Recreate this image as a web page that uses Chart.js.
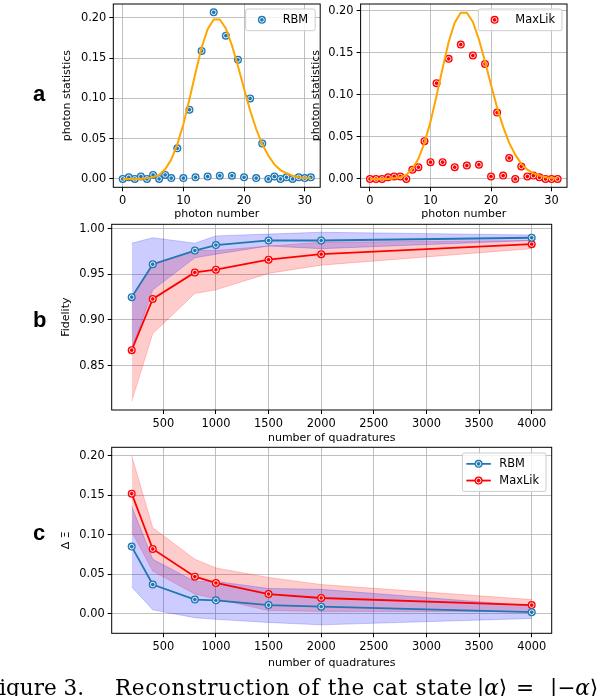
<!DOCTYPE html>
<html lang="en">
<head>
<meta charset="UTF-8" />
<title>Cat state reconstruction</title>
<style>
    body { margin: 0; background: #ffffff; }
    #page { position: relative; width: 604px; height: 696px; overflow: hidden; background: #ffffff; }
    canvas { position: absolute; left: 0; top: 0; }
    .panel { position: absolute; left: 33px; font: bold 22px "Liberation Sans", Arial, sans-serif; line-height: 22px; color: #000; }
    .caption { position: absolute; top: 676.5px; font: 21.5px "DejaVu Serif", serif; line-height: 22px; white-space: nowrap; color: #000; }
    .caption i { font-style: italic; }
</style>
</head>
<body>
<div id="page">
    <canvas id="statsRbm" width="604" height="696"></canvas>
    <canvas id="statsMaxLik" width="604" height="696"></canvas>
    <canvas id="fidelity" width="604" height="696"></canvas>
    <canvas id="deltaXi" width="604" height="696"></canvas>

    <div class="panel" style="top:83px">a</div>
    <div class="panel" style="top:309px">b</div>
    <div class="panel" style="top:522px">c</div>

    <div class="caption" style="right:520px">Figure 3.</div>
    <div class="caption" id="capText" style="left:115px">Reconstruction of the cat state</div>
    <div class="caption" style="left:477px">|<i>α</i>⟩</div>
    <div class="caption" style="left:516px">=</div>
    <div class="caption" style="left:550px">|−<i>α</i>⟩</div>
</div>

<script src="https://cdn.jsdelivr.net/npm/chart.js"></script>
<script>
    // ---- panel a: photon number distributions ----
    const photonN = [0, 1, 2, 3, 4, 5, 6, 7, 8, 9, 10, 11, 12, 13, 14, 15,
                     16, 17, 18, 19, 20, 21, 22, 23, 24, 25, 26, 27, 28, 29, 30, 31];
    const targetStats = [0, 0, 0, 0, 0.001, 0.002, 0.005, 0.012, 0.024, 0.043, 0.068, 0.099,
                         0.132, 0.163, 0.186, 0.198, 0.198, 0.187, 0.166, 0.140, 0.112, 0.085,
                         0.062, 0.043, 0.029, 0.018, 0.011, 0.007, 0.004, 0.002, 0.001, 0.001];
    const rbmStats = [0.000, 0.002, 0.000, 0.003, 0.000, 0.005, 0.000, 0.005, 0.001, 0.038, 0.001, 0.086,
                      0.002, 0.159, 0.003, 0.207, 0.004, 0.178, 0.004, 0.148, 0.002, 0.100,
                      0.001, 0.044, 0.000, 0.003, 0.000, 0.002, 0.000, 0.002, 0.001, 0.002];
    const maxLikStats = [0.000, 0.000, 0.000, 0.002, 0.003, 0.003, 0.000, 0.011, 0.014, 0.045, 0.020, 0.114,
                         0.020, 0.143, 0.014, 0.160, 0.016, 0.147, 0.017, 0.137, 0.003, 0.079,
                         0.004, 0.025, 0.000, 0.015, 0.003, 0.004, 0.002, 0.000, 0.000, 0.000];
    const photonTicks = [0, 10, 20, 30];
    const statTicks = [0, 0.05, 0.10, 0.15, 0.20];

    // ---- panels b and c: versus number of quadratures ----
    const quadratures = [200, 400, 800, 1000, 1500, 2000, 4000];
    const fidRbm = [0.925, 0.961, 0.976, 0.982, 0.987, 0.987, 0.990];
    const fidRbmLow = [0.867, 0.933, 0.968, 0.972, 0.981, 0.978, 0.987];
    const fidRbmHigh = [0.984, 0.990, 0.984, 0.992, 0.994, 0.996, 0.993];
    const fidMaxLik = [0.867, 0.923, 0.952, 0.955, 0.966, 0.972, 0.983];
    const fidMaxLikLow = [0.811, 0.885, 0.929, 0.933, 0.951, 0.960, 0.978];
    const fidMaxLikHigh = [0.923, 0.960, 0.976, 0.976, 0.981, 0.985, 0.987];

    const dxiRbm = [0.085, 0.037, 0.018, 0.017, 0.011, 0.009, 0.002];
    const dxiRbmLow = [0.034, 0.005, -0.005, -0.007, -0.011, -0.014, -0.006];
    const dxiRbmHigh = [0.136, 0.069, 0.041, 0.041, 0.032, 0.031, 0.010];
    const dxiMaxLik = [0.152, 0.082, 0.047, 0.039, 0.025, 0.020, 0.011];
    const dxiMaxLikLow = [0.104, 0.054, 0.025, 0.019, 0.004, 0.003, 0.003];
    const dxiMaxLikHigh = [0.200, 0.109, 0.069, 0.058, 0.046, 0.037, 0.018];

    const quadTicks = [500, 1000, 1500, 2000, 2500, 3000, 3500, 4000];
    const fidTicks = [0.85, 0.90, 0.95, 1.00];
    const dxiTicks = [0, 0.05, 0.10, 0.15, 0.20];

    const BLUE = '#1f77b4';
    const RED = '#ff0000';
    const ORANGE = '#ffa500';
    const FONT = 'DejaVu Sans';
    const MARK_R = 4;
    const RING_R = 2.3;

    // stretch the caption text to the width it has in the figure
    (function () {
        const el = document.getElementById('capText');
        const extra = 357 - el.getBoundingClientRect().width;
        el.style.letterSpacing = (extra / (el.textContent.length - 1)) + 'px';
    })();

    const xy = (xs, ys) => xs.map((x, i) => ({x: x, y: ys[i]}));

    function drawRing(ctx, x, y) {
        ctx.beginPath();
        ctx.arc(x, y, RING_R, 0, 2 * Math.PI);
        ctx.stroke();
    }

    // white ring inside each marker, as in the figure
    const rings = {
        id: 'rings',
        afterDatasetDraw(chart, args) {
            const ds = chart.data.datasets[args.index];
            if (!ds.ring) return;
            const ctx = chart.ctx;
            ctx.save();
            ctx.strokeStyle = '#ffffff';
            ctx.lineWidth = 0.9;
            args.meta.data.forEach(p => drawRing(ctx, p.x, p.y));
            ctx.restore();
        }
    };

    // black box round the plot area
    const frame = {
        id: 'frame',
        afterDatasetsDraw(chart) {
            const {ctx, chartArea: a} = chart;
            ctx.save();
            ctx.strokeStyle = '#000';
            ctx.lineWidth = 1;
            ctx.strokeRect(a.left, a.top, a.right - a.left, a.bottom - a.top);
            ctx.restore();
        }
    };

    // matplotlib-style legend inside the top right corner
    const boxLegend = {
        id: 'boxLegend',
        afterDraw(chart, args, opts) {
            if (!opts.show) return;
            const items = chart.data.datasets.filter(d => d.ring);
            const {ctx, chartArea: a} = chart;
            ctx.save();
            ctx.font = '11.4px "' + FONT + '"';
            const textW = Math.max(...items.map(d => ctx.measureText(d.label).width));
            const rowH = 16.7;
            const w = 4 + 24.5 + 8.5 + textW + 7;
            const h = 5 + rowH * items.length;
            const x0 = a.right - opts.inset - w;
            const y0 = a.top + opts.inset;
            ctx.fillStyle = 'rgba(255,255,255,0.8)';
            ctx.strokeStyle = '#cccccc';
            ctx.lineWidth = 1;
            ctx.beginPath();
            ctx.roundRect(x0, y0, w, h, 2);
            ctx.fill();
            ctx.stroke();
            items.forEach((d, i) => {
                const cy = y0 + 2.5 + rowH * (i + 0.5);
                const hx = x0 + 4;
                const mx = hx + 12.25;
                if (d.showLine !== false) {
                    ctx.strokeStyle = d.borderColor;
                    ctx.lineWidth = d.borderWidth;
                    ctx.beginPath();
                    ctx.moveTo(hx, cy);
                    ctx.lineTo(hx + 24.5, cy);
                    ctx.stroke();
                }
                ctx.fillStyle = d.pointBackgroundColor;
                ctx.beginPath();
                ctx.arc(mx, cy, MARK_R, 0, 2 * Math.PI);
                ctx.fill();
                ctx.strokeStyle = '#ffffff';
                ctx.lineWidth = 0.9;
                drawRing(ctx, mx, cy);
                ctx.fillStyle = '#000';
                ctx.textBaseline = 'middle';
                ctx.textAlign = 'left';
                ctx.fillText(d.label, hx + 24.5 + 8.5, cy + 0.5);
            });
            ctx.restore();
        }
    };

    // builds a linear axis with fixed ticks and a fixed box size
    function axis(opts) {
        return {
            type: 'linear',
            position: opts.position,
            min: opts.min,
            max: opts.max,
            afterBuildTicks: s => { s.ticks = opts.ticks.map(v => ({value: v})); },
            afterFit: s => {
                if (opts.position === 'left') s.width = opts.size;
                else s.height = opts.size;
                s.paddingTop = 0;
                s.paddingBottom = 0;
                s.paddingLeft = 0;
                s.paddingRight = 0;
            },
            grid: {color: '#b0b0b0', lineWidth: 0.8, tickColor: '#000', tickLength: 4, tickWidth: 1},
            border: {display: false},
            ticks: {
                autoSkip: false,
                maxRotation: 0,
                padding: 3,
                color: '#000',
                font: {family: FONT, size: 11.4},
                callback: opts.format
            },
            title: {
                display: true,
                text: opts.title,
                color: '#000',
                padding: 0,
                font: {family: FONT, size: 11, lineHeight: 1.2}
            }
        };
    }

    function baseOptions(pad, xAxis, yAxis, legend) {
        return {
            responsive: false,
            maintainAspectRatio: false,
            animation: false,
            events: [],
            layout: {padding: pad},
            plugins: {legend: {display: false}, tooltip: {enabled: false}, boxLegend: legend},
            scales: {x: xAxis, y: yAxis}
        };
    }

    const fmt2 = v => v.toFixed(2);
    const fmt0 = v => String(v);

    function statsChart(id, label, values, color, pad, yMin, yMax, ySize) {
        new Chart(document.getElementById(id), {
            type: 'line',
            data: {
                datasets: [
                    {
                        label: 'target', data: xy(photonN, targetStats), order: 0,
                        borderColor: ORANGE, borderWidth: 2, pointRadius: 0, fill: false
                    },
                    {
                        label: label, data: xy(photonN, values), order: 1, ring: true,
                        showLine: false, pointStyle: 'circle', pointRadius: MARK_R, pointBorderWidth: 0,
                        pointBackgroundColor: color, borderColor: color
                    }
                ]
            },
            options: baseOptions(pad,
                axis({position: 'bottom', min: -1.55, max: 32.55, ticks: photonTicks, size: 33.3,
                      title: 'photon number', format: fmt0}),
                axis({position: 'left', min: yMin, max: yMax, ticks: statTicks, size: ySize,
                      title: 'photon statistics', format: fmt2}),
                {show: true, inset: 5}),
            plugins: [rings, frame, boxLegend]
        });
    }

    statsChart('statsRbm', 'RBM', rbmStats, BLUE,
        {left: 60.8, top: 0.5, right: 283.8, bottom: 475.4}, -0.0104, 0.2173, 52.5);
    statsChart('statsMaxLik', 'MaxLik', maxLikStats, RED,
        {left: 309.4, top: 0.5, right: 37, bottom: 475.4}, -0.0099, 0.2083, 51.2);

    function bandSets(xs, mean, low, high, color, fillColor, label, base) {
        return [
            {
                label: label, data: xy(xs, mean), order: base, ring: true,
                borderColor: color, borderWidth: 1.8, pointStyle: 'circle', pointRadius: MARK_R,
                pointBorderWidth: 0, pointBackgroundColor: color, fill: false
            },
            {
                label: label + ' high', data: xy(xs, high), order: base + 2, fill: '+1',
                backgroundColor: fillColor, borderColor: fillColor, borderWidth: 1, pointRadius: 0
            },
            {
                label: label + ' low', data: xy(xs, low), order: base + 3, fill: false,
                borderColor: fillColor, borderWidth: 1, pointRadius: 0
            }
        ];
    }

    function quadChart(id, rbm, ml, pad, yMin, yMax, yTicks, yTitle, ySize, xSize, legend) {
        new Chart(document.getElementById(id), {
            type: 'line',
            data: {
                datasets: [
                    ...bandSets(quadratures, rbm[0], rbm[1], rbm[2], BLUE, 'rgba(0,0,255,0.2)', 'RBM', 0),
                    ...bandSets(quadratures, ml[0], ml[1], ml[2], RED, 'rgba(255,0,0,0.2)', 'MaxLik', 1)
                ]
            },
            options: baseOptions(pad,
                axis({position: 'bottom', min: 10, max: 4190, ticks: quadTicks, size: xSize,
                      title: 'number of quadratures', format: fmt0}),
                axis({position: 'left', min: yMin, max: yMax, ticks: yTicks, size: ySize,
                      title: yTitle, format: fmt2}),
                legend),
            plugins: [rings, frame, boxLegend]
        });
    }

    quadChart('fidelity',
        [fidRbm, fidRbmLow, fidRbmHigh], [fidMaxLik, fidMaxLikLow, fidMaxLikHigh],
        {left: 60, top: 224.3, right: 52.3, bottom: 251.4}, 0.8015, 1.0047, fidTicks, 'Fidelity', 51.7, 34.6,
        {show: false});

    quadChart('deltaXi',
        [dxiRbm, dxiRbmLow, dxiRbmHigh], [dxiMaxLik, dxiMaxLikLow, dxiMaxLikHigh],
        {left: 60, top: 447.3, right: 52.3, bottom: 26.4}, -0.0247, 0.2107, dxiTicks, 'Δ Ξ', 51.7, 36.3,
        {show: true, inset: 5.7});
</script>
</body>
</html>
